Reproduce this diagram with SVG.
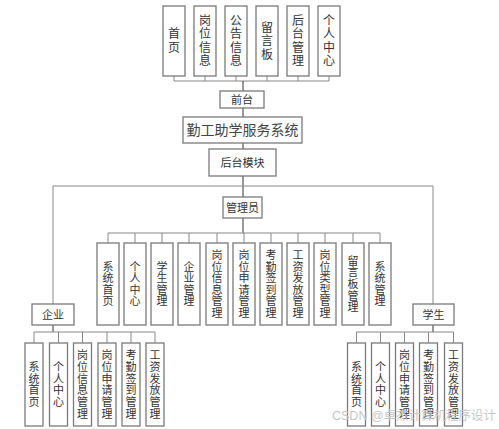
<svg xmlns="http://www.w3.org/2000/svg" width="499" height="429" viewBox="0 0 499 429">
<style>
.b{fill:#fff;stroke:#7a7a7a;stroke-width:1.3}
.t{font-family:"Liberation Sans","Noto Sans CJK SC",sans-serif;fill:#333;text-anchor:middle;dominant-baseline:central}
.s{font-size:12px}
.m{font-size:11px}
.c line,.c polyline{stroke:#888;stroke-width:1;fill:none}
.c .k{stroke:#333}
.wm{font-family:"Liberation Sans","Noto Sans CJK SC",sans-serif;font-size:12.5px;fill:#c8c8c8}
</style>
<rect width="499" height="429" fill="#fff"/>
<g class="c" id="connectors">
<line x1="174" y1="76" x2="174" y2="81"/><line x1="205" y1="76" x2="205" y2="81"/><line x1="236" y1="76" x2="236" y2="81"/><line x1="267" y1="76" x2="267" y2="81"/><line x1="298" y1="76" x2="298" y2="81"/><line x1="329" y1="76" x2="329" y2="81"/>
<line x1="174" y1="81" x2="329" y2="81"/>
<line class="k" x1="243" y1="81" x2="243" y2="91"/>
<line class="k" x1="243" y1="108" x2="243" y2="117"/>
<line class="k" x1="243" y1="143" x2="243" y2="149"/>
<line class="k" x1="243" y1="176" x2="243" y2="197"/>
<line x1="53" y1="186" x2="433" y2="186"/>
<line x1="53" y1="186" x2="53" y2="304"/>
<line x1="433" y1="186" x2="433" y2="304"/>
<line class="k" x1="243" y1="218" x2="243" y2="233"/>
<line x1="108" y1="233" x2="380" y2="233"/>
<line x1="108" y1="233" x2="108" y2="243"/><line x1="135" y1="233" x2="135" y2="243"/><line x1="162" y1="233" x2="162" y2="243"/><line x1="189" y1="233" x2="189" y2="243"/><line x1="217" y1="233" x2="217" y2="243"/><line x1="244" y1="233" x2="244" y2="243"/><line x1="271" y1="233" x2="271" y2="243"/><line x1="298" y1="233" x2="298" y2="243"/><line x1="325" y1="233" x2="325" y2="243"/><line x1="353" y1="233" x2="353" y2="243"/><line x1="380" y1="233" x2="380" y2="243"/>
<line class="k" x1="53" y1="325" x2="53" y2="332"/>
<line x1="34" y1="332" x2="155" y2="332"/>
<line x1="34" y1="332" x2="34" y2="343"/><line x1="58.5" y1="332" x2="58.5" y2="343"/><line x1="82.5" y1="332" x2="82.5" y2="343"/><line x1="107" y1="332" x2="107" y2="343"/><line x1="131" y1="332" x2="131" y2="343"/><line x1="155" y1="332" x2="155" y2="343"/>
<line class="k" x1="433" y1="325" x2="433" y2="332"/>
<line x1="356.5" y1="332" x2="453.5" y2="332"/>
<line x1="356.5" y1="332" x2="356.5" y2="343"/><line x1="380.5" y1="332" x2="380.5" y2="343"/><line x1="404.5" y1="332" x2="404.5" y2="343"/><line x1="428.5" y1="332" x2="428.5" y2="343"/><line x1="453.5" y1="332" x2="453.5" y2="343"/>
</g>

<g id="top-shouye"><rect class="b" x="163" y="6" width="22" height="70"/><text class="t s"><tspan x="174" y="34.25">首</tspan><tspan x="174" y="47.75">页</tspan></text></g>
<g id="top-gangwei"><rect class="b" x="194" y="6" width="22" height="70"/><text class="t s"><tspan x="205" y="20.75">岗</tspan><tspan x="205" y="34.25">位</tspan><tspan x="205" y="47.75">信</tspan><tspan x="205" y="61.25">息</tspan></text></g>
<g id="top-gonggao"><rect class="b" x="225" y="6" width="22" height="70"/><text class="t s"><tspan x="236" y="20.75">公</tspan><tspan x="236" y="34.25">告</tspan><tspan x="236" y="47.75">信</tspan><tspan x="236" y="61.25">息</tspan></text></g>
<g id="top-liuyan"><rect class="b" x="256" y="6" width="22" height="70"/><text class="t s"><tspan x="267" y="27.5">留</tspan><tspan x="267" y="41">言</tspan><tspan x="267" y="54.5">板</tspan></text></g>
<g id="top-houtai"><rect class="b" x="287" y="6" width="22" height="70"/><text class="t s"><tspan x="298" y="20.75">后</tspan><tspan x="298" y="34.25">台</tspan><tspan x="298" y="47.75">管</tspan><tspan x="298" y="61.25">理</tspan></text></g>
<g id="top-geren"><rect class="b" x="318" y="6" width="22" height="70"/><text class="t s"><tspan x="329" y="20.75">个</tspan><tspan x="329" y="34.25">人</tspan><tspan x="329" y="47.75">中</tspan><tspan x="329" y="61.25">心</tspan></text></g>

<g id="qiantai"><rect class="b" x="220" y="91" width="44" height="17"/><text class="t m" x="242" y="99.5">前台</text></g>
<g id="system"><rect class="b" x="183" y="117" width="119" height="26"/><text class="t" style="font-size:14px;fill:#444" x="242.5" y="130">勤工助学服务系统</text></g>
<g id="houtai"><rect class="b" x="209" y="149" width="67" height="27"/><text class="t m" x="242.5" y="162.5">后台模块</text></g>
<g id="admin"><rect class="b" x="223" y="197" width="39" height="21"/><text class="t m" x="242.5" y="207.5">管理员</text></g>

<g id="a1"><rect class="b" x="97" y="243" width="22" height="82"/><text class="t m"><tspan x="108" y="266.6">系</tspan><tspan x="108" y="278.2">统</tspan><tspan x="108" y="289.8">首</tspan><tspan x="108" y="301.4">页</tspan></text></g>
<g id="a2"><rect class="b" x="124" y="243" width="22" height="82"/><text class="t m"><tspan x="135" y="266.6">个</tspan><tspan x="135" y="278.2">人</tspan><tspan x="135" y="289.8">中</tspan><tspan x="135" y="301.4">心</tspan></text></g>
<g id="a3"><rect class="b" x="151" y="243" width="22" height="82"/><text class="t m"><tspan x="162" y="266.6">学</tspan><tspan x="162" y="278.2">生</tspan><tspan x="162" y="289.8">管</tspan><tspan x="162" y="301.4">理</tspan></text></g>
<g id="a4"><rect class="b" x="178" y="243" width="22" height="82"/><text class="t m"><tspan x="189" y="266.6">企</tspan><tspan x="189" y="278.2">业</tspan><tspan x="189" y="289.8">管</tspan><tspan x="189" y="301.4">理</tspan></text></g>
<g id="a5"><rect class="b" x="206" y="243" width="22" height="82"/><text class="t m"><tspan x="217" y="255">岗</tspan><tspan x="217" y="266.6">位</tspan><tspan x="217" y="278.2">信</tspan><tspan x="217" y="289.8">息</tspan><tspan x="217" y="301.4">管</tspan><tspan x="217" y="313">理</tspan></text></g>
<g id="a6"><rect class="b" x="233" y="243" width="22" height="82"/><text class="t m"><tspan x="244" y="255">岗</tspan><tspan x="244" y="266.6">位</tspan><tspan x="244" y="278.2">申</tspan><tspan x="244" y="289.8">请</tspan><tspan x="244" y="301.4">管</tspan><tspan x="244" y="313">理</tspan></text></g>
<g id="a7"><rect class="b" x="260" y="243" width="22" height="82"/><text class="t m"><tspan x="271" y="255">考</tspan><tspan x="271" y="266.6">勤</tspan><tspan x="271" y="278.2">签</tspan><tspan x="271" y="289.8">到</tspan><tspan x="271" y="301.4">管</tspan><tspan x="271" y="313">理</tspan></text></g>
<g id="a8"><rect class="b" x="287" y="243" width="22" height="82"/><text class="t m"><tspan x="298" y="255">工</tspan><tspan x="298" y="266.6">资</tspan><tspan x="298" y="278.2">发</tspan><tspan x="298" y="289.8">放</tspan><tspan x="298" y="301.4">管</tspan><tspan x="298" y="313">理</tspan></text></g>
<g id="a9"><rect class="b" x="314" y="243" width="22" height="82"/><text class="t m"><tspan x="325" y="255">岗</tspan><tspan x="325" y="266.6">位</tspan><tspan x="325" y="278.2">类</tspan><tspan x="325" y="289.8">型</tspan><tspan x="325" y="301.4">管</tspan><tspan x="325" y="313">理</tspan></text></g>
<g id="a10"><rect class="b" x="342" y="243" width="22" height="82"/><text class="t m"><tspan x="353" y="260.8">留</tspan><tspan x="353" y="272.4">言</tspan><tspan x="353" y="284">板</tspan><tspan x="353" y="295.6">管</tspan><tspan x="353" y="307.2">理</tspan></text></g>
<g id="a11"><rect class="b" x="369" y="243" width="22" height="82"/><text class="t m"><tspan x="380" y="266.6">系</tspan><tspan x="380" y="278.2">统</tspan><tspan x="380" y="289.8">管</tspan><tspan x="380" y="301.4">理</tspan></text></g>

<g id="qiye"><rect class="b" x="32" y="304" width="42" height="21"/><text class="t m" x="53" y="314.5">企业</text></g>
<g id="q1"><rect class="b" x="25" y="343" width="18" height="83"/><text class="t m"><tspan x="34" y="366.8">系</tspan><tspan x="34" y="378.6">统</tspan><tspan x="34" y="390.4">首</tspan><tspan x="34" y="402.2">页</tspan></text></g>
<g id="q2"><rect class="b" x="49.5" y="343" width="18" height="83"/><text class="t m"><tspan x="58.5" y="366.8">个</tspan><tspan x="58.5" y="378.6">人</tspan><tspan x="58.5" y="390.4">中</tspan><tspan x="58.5" y="402.2">心</tspan></text></g>
<g id="q3"><rect class="b" x="73.5" y="343" width="18" height="83"/><text class="t m"><tspan x="82.5" y="355">岗</tspan><tspan x="82.5" y="366.8">位</tspan><tspan x="82.5" y="378.6">信</tspan><tspan x="82.5" y="390.4">息</tspan><tspan x="82.5" y="402.2">管</tspan><tspan x="82.5" y="414">理</tspan></text></g>
<g id="q4"><rect class="b" x="98" y="343" width="18" height="83"/><text class="t m"><tspan x="107" y="355">岗</tspan><tspan x="107" y="366.8">位</tspan><tspan x="107" y="378.6">申</tspan><tspan x="107" y="390.4">请</tspan><tspan x="107" y="402.2">管</tspan><tspan x="107" y="414">理</tspan></text></g>
<g id="q5"><rect class="b" x="122" y="343" width="18" height="83"/><text class="t m"><tspan x="131" y="355">考</tspan><tspan x="131" y="366.8">勤</tspan><tspan x="131" y="378.6">签</tspan><tspan x="131" y="390.4">到</tspan><tspan x="131" y="402.2">管</tspan><tspan x="131" y="414">理</tspan></text></g>
<g id="q6"><rect class="b" x="146" y="343" width="18" height="83"/><text class="t m"><tspan x="155" y="355">工</tspan><tspan x="155" y="366.8">资</tspan><tspan x="155" y="378.6">发</tspan><tspan x="155" y="390.4">放</tspan><tspan x="155" y="402.2">管</tspan><tspan x="155" y="414">理</tspan></text></g>

<g id="xuesheng"><rect class="b" x="413" y="304" width="41" height="21"/><text class="t m" x="433.5" y="314.5">学生</text></g>
<g id="s1"><rect class="b" x="347.5" y="343" width="18" height="83"/><text class="t m"><tspan x="356.5" y="366.8">系</tspan><tspan x="356.5" y="378.6">统</tspan><tspan x="356.5" y="390.4">首</tspan><tspan x="356.5" y="402.2">页</tspan></text></g>
<g id="s2"><rect class="b" x="371.5" y="343" width="18" height="83"/><text class="t m"><tspan x="380.5" y="366.8">个</tspan><tspan x="380.5" y="378.6">人</tspan><tspan x="380.5" y="390.4">中</tspan><tspan x="380.5" y="402.2">心</tspan></text></g>
<g id="s3"><rect class="b" x="395.5" y="343" width="18" height="83"/><text class="t m"><tspan x="404.5" y="355">岗</tspan><tspan x="404.5" y="366.8">位</tspan><tspan x="404.5" y="378.6">申</tspan><tspan x="404.5" y="390.4">请</tspan><tspan x="404.5" y="402.2">管</tspan><tspan x="404.5" y="414">理</tspan></text></g>
<g id="s4"><rect class="b" x="419.5" y="343" width="18" height="83"/><text class="t m"><tspan x="428.5" y="355">考</tspan><tspan x="428.5" y="366.8">勤</tspan><tspan x="428.5" y="378.6">签</tspan><tspan x="428.5" y="390.4">到</tspan><tspan x="428.5" y="402.2">管</tspan><tspan x="428.5" y="414">理</tspan></text></g>
<g id="s5"><rect class="b" x="444.5" y="343" width="18" height="83"/><text class="t m"><tspan x="453.5" y="355">工</tspan><tspan x="453.5" y="366.8">资</tspan><tspan x="453.5" y="378.6">发</tspan><tspan x="453.5" y="390.4">放</tspan><tspan x="453.5" y="402.2">管</tspan><tspan x="453.5" y="414">理</tspan></text></g>

<text class="wm" x="332" y="420">CSDN @卓杰计算机程序设计</text>
</svg>
